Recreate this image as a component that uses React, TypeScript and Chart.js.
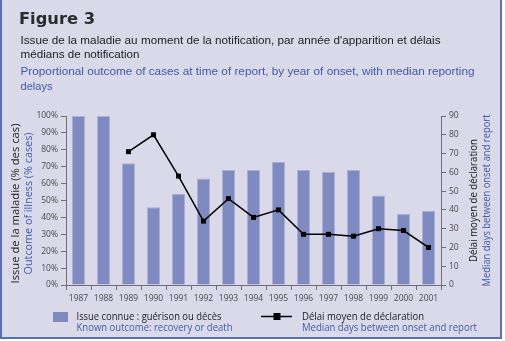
import React, { useEffect, useRef } from "react";
import { Chart, registerables } from "chart.js";

Chart.register(...registerables);

const years = ["1987", "1988", "1989", "1990", "1991", "1992", "1993", "1994", "1995", "1996", "1997", "1998", "1999", "2000", "2001"];
const knownOutcomePct = [100, 100, 72, 46, 54, 63, 68, 68, 73, 68, 67, 68, 53, 42, 44];
const medianDelayDays = [null, null, 71, 80, 58, 34, 46, 36, 40, 27, 27, 26, 30, 29, 20];

const figureTitle = "Figure 3";
const frTitleLines = [
  "Issue de la maladie au moment de la notification, par année d'apparition et délais",
  "médians de notification",
];
const enTitleLines = [
  "Proportional outcome of cases at time of report, by year of onset, with median reporting",
  "delays",
];
const leftTitleFr = "Issue de la maladie (% des cas)";
const leftTitleEn = "Outcome of illness (% cases)";
const rightTitleFr = "Délai moyen de déclaration";
const rightTitleEn = "Median days between onset and report";
const barLegendFr = "Issue connue : guérison ou décès";
const barLegendEn = "Known outcome: recovery or death";
const lineLegendFr = "Délai moyen de déclaration";
const lineLegendEn = "Median days between onset and report";

const PANEL = "#d9d9ea";
const BORDER = "#5670b3";
const BAR = "#7f8bc0";
const BLUE = "#3f5ba8";
const DARK = "#222222";
const AXIS = "#6f6f78";

function fitText(ctx: CanvasRenderingContext2D, text: string, x: number, y: number, w: number) {
  const m = ctx.measureText(text).width;
  const s = w / m;
  ctx.save();
  ctx.translate(x, y);
  ctx.scale(s, 1);
  ctx.textAlign = "left";
  ctx.fillText(text, 0, 0);
  ctx.restore();
}

function rotText(ctx: CanvasRenderingContext2D, text: string, cx: number, cy: number, w: number | null) {
  ctx.save();
  ctx.translate(cx, cy);
  ctx.rotate(-Math.PI / 2);
  const m = ctx.measureText(text).width;
  if (w) ctx.scale(w / m, 1);
  ctx.textAlign = "center";
  ctx.textBaseline = "middle";
  ctx.fillText(text, 0, 0);
  ctx.restore();
}

const decorPlugin = {
  id: "decor",
  beforeDraw(chart: any) {
    const ctx = chart.ctx as CanvasRenderingContext2D;
    ctx.save();
    ctx.fillStyle = "#ffffff";
    ctx.fillRect(0, 0, chart.width, chart.height);
    ctx.fillStyle = PANEL;
    ctx.fillRect(0, 0, 502, 339);
    ctx.fillStyle = BORDER;
    ctx.fillRect(0, 0, 2, 339);
    ctx.fillRect(500, 0, 2, 339);
    ctx.fillRect(0, 337, 502, 2);
    ctx.restore();
  },
  afterDraw(chart: any) {
    const ctx = chart.ctx as CanvasRenderingContext2D;
    const area = chart.chartArea;
    const cy = (area.top + area.bottom) / 2;
    ctx.save();
    ctx.textBaseline = "alphabetic";
    // Figure title
    ctx.fillStyle = "#2b2b2b";
    ctx.font = "bold 16px 'DejaVu Sans'";
    fitText(ctx, figureTitle, 19, 24, 76);
    // French title
    ctx.font = "11px 'Liberation Sans'";
    ctx.fillStyle = DARK;
    fitText(ctx, frTitleLines[0], 20.5, 43.5, 420);
    fitText(ctx, frTitleLines[1], 20.5, 58, 119);
    ctx.fillStyle = BLUE;
    fitText(ctx, enTitleLines[0], 20.5, 75, 454);
    fitText(ctx, enTitleLines[1], 20.5, 89.5, 32);

    // Axis titles
    ctx.font = "10px 'Open Sans'";
    ctx.fillStyle = DARK;
    rotText(ctx, leftTitleFr, 16.5, cy + 3, 160);
    ctx.fillStyle = BLUE;
    rotText(ctx, leftTitleEn, 29.5, cy + 3, 142);
    ctx.fillStyle = DARK;
    rotText(ctx, rightTitleFr, 474.5, cy, 123);
    ctx.fillStyle = BLUE;
    rotText(ctx, rightTitleEn, 487, cy, 172);

    // Legend
    ctx.fillStyle = BAR;
    ctx.fillRect(53, 312, 15, 10);
    ctx.font = "10px 'Open Sans'";
    ctx.fillStyle = DARK;
    fitText(ctx, barLegendFr, 76.5, 319.5, 145);
    ctx.fillStyle = BLUE;
    fitText(ctx, barLegendEn, 76.5, 331, 156);

    ctx.strokeStyle = "#000";
    ctx.lineWidth = 1.5;
    ctx.beginPath();
    ctx.moveTo(261, 316.5);
    ctx.lineTo(292, 316.5);
    ctx.stroke();
    ctx.fillStyle = "#000";
    ctx.fillRect(273.5, 313, 7, 7);
    ctx.fillStyle = DARK;
    fitText(ctx, lineLegendFr, 302, 319.5, 122);
    ctx.fillStyle = BLUE;
    fitText(ctx, lineLegendEn, 302, 331, 175);
    ctx.restore();
  },
};

export default function App() {
  const ref = useRef<HTMLCanvasElement | null>(null);
  useEffect(() => {
    if (!ref.current) return;
    const tickFont = { family: "'Open Sans'", size: 8.5 };
    const chart = new Chart(ref.current, {
      data: {
        labels: years,
        datasets: [
          {
            type: "line",
            label: lineLegendEn,
            data: medianDelayDays as any,
            yAxisID: "y1",
            borderColor: "#000",
            backgroundColor: "#000",
            borderWidth: 1.5,
            pointStyle: "rect",
            pointRadius: 3.5,
            pointBackgroundColor: "#000",
            pointBorderWidth: 0,
            tension: 0,
            order: 0,
          },
          {
            type: "bar",
            label: barLegendEn,
            data: knownOutcomePct,
            yAxisID: "y",
            backgroundColor: BAR,
            borderColor: "#a9b0d6",
            borderWidth: 1,
            barPercentage: 0.52,
            categoryPercentage: 1,
            order: 1,
          },
        ],
      } as any,
      options: {
        responsive: false,
        animation: false,
        devicePixelRatio: 1,
        layout: { padding: { left: 0, right: 0, top: 116, bottom: 36 } },
        plugins: { legend: { display: false }, tooltip: { enabled: false }, title: { display: false } },
        scales: {
          x: {
            type: "category",
            offset: true,
            grid: { display: true, drawOnChartArea: false, offset: true, tickLength: 5, color: AXIS },
            border: { display: true, color: AXIS },
            ticks: { font: tickFont, color: "#4a4a4a", maxRotation: 0, autoSkip: false, padding: 3 },
            afterFit: (s: any) => { s.height = 20; },
          },
          y: {
            position: "left",
            min: 0,
            max: 100,
            ticks: { stepSize: 10, font: tickFont, color: "#4a4a4a", padding: 3, callback: (v: any) => v + "%" },
            grid: { drawOnChartArea: false, tickLength: 5, color: AXIS },
            border: { display: true, color: AXIS },
            afterFit: (s: any) => { s.width = 66; },
          },
          y1: {
            position: "right",
            min: 0,
            max: 90,
            ticks: { stepSize: 10, font: tickFont, color: "#4a4a4a", padding: 3 },
            grid: { drawOnChartArea: false, tickLength: 5, color: AXIS },
            border: { display: true, color: AXIS },
            afterFit: (s: any) => { s.width = 64; },
          },
        },
      } as any,
      plugins: [decorPlugin],
    });
    return () => chart.destroy();
  }, []);
  return (
    <div style={{ position: "absolute", left: 0, top: 0, width: 505, height: 341 }}>
      <canvas ref={ref} width={505} height={341} style={{ width: 505, height: 341, display: "block" }} />
    </div>
  );
}
